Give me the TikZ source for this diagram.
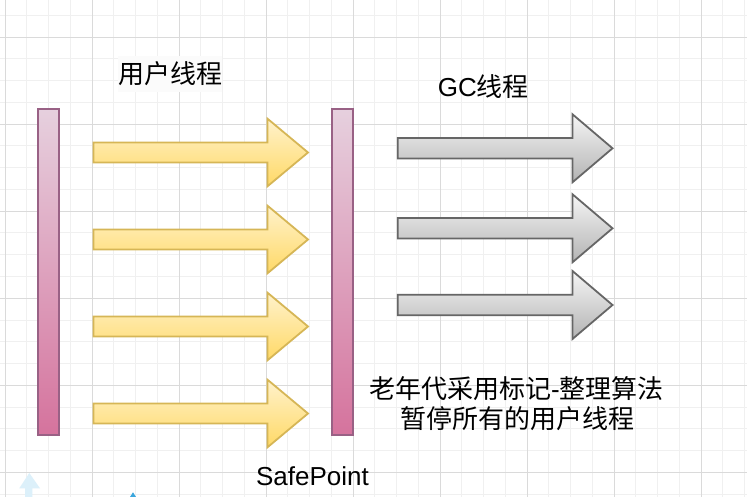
\documentclass[tikz,border=0pt]{standalone}
\usepackage{fontspec}
\setmainfont{Liberation Sans}
\newfontfamily\cjkfont{Noto Sans CJK SC}
\definecolor{gridminor}{HTML}{F0F0F0}
\definecolor{gridmajor}{HTML}{DADADA}
\definecolor{bartop}{HTML}{E6D0DE}
\definecolor{barbottom}{HTML}{D5739D}
\definecolor{barstroke}{HTML}{996185}
\definecolor{ytop}{HTML}{FFF2CC}
\definecolor{ybottom}{HTML}{FFD966}
\definecolor{ystroke}{HTML}{D6B656}
\definecolor{gtop}{HTML}{F5F5F5}
\definecolor{gbottom}{HTML}{B3B3B3}
\definecolor{gstroke}{HTML}{666666}
\definecolor{paleblue}{HTML}{DCF0FA}
\definecolor{brightblue}{HTML}{3AA6DD}
\definecolor{labelbg}{HTML}{FBFBFB}
\newcommand\myarrowpath[6]{(#1,#2-#5) -- (#3,#2-#5) -- (#3,#2-#6) -- (#4,#2) -- (#3,#2+#6) -- (#3,#2+#5) -- (#1,#2+#5) -- cycle}
\begin{document}
\begin{tikzpicture}[x=1pt,y=-1pt,
  minorgrid/.style={draw=gridminor, line width=0.9pt},
  majorgrid/.style={draw=gridmajor, line width=0.9pt},
  bar/.style={draw=barstroke, line width=2pt, top color=bartop, bottom color=barbottom},
  yarrow/.style={draw=ystroke, line width=1.8pt, top color=ytop, bottom color=ybottom},
  garrow/.style={draw=gstroke, line width=1.8pt, top color=gtop, bottom color=gbottom},
  lbl/.style={font=\fontsize{26}{30}\selectfont, inner sep=0pt, anchor=base}]
\useasboundingbox (0,0) rectangle (747,497);
\fill[white] (0,0) rectangle (747,497);
% grid
\foreach \k in {0,...,34} {\draw[minorgrid] ({5+21.75*\k},0) -- ({5+21.75*\k},497);}
\foreach \k in {-1,...,21} {\draw[minorgrid] (0,{37.2+21.75*\k}) -- (747,{37.2+21.75*\k});}
\foreach \k in {0,...,8} {\draw[majorgrid] ({5+87*\k},0) -- ({5+87*\k},497);}
\foreach \k in {0,...,5} {\draw[majorgrid] (0,{37.2+87*\k}) -- (747,{37.2+87*\k});}
% partial shapes at the bottom edge
\fill[paleblue] (29.3,473) -- (40,488.3) -- (32.3,488.3) -- (32.3,497) -- (25,497) -- (25,488.3) -- (19.3,488.3) -- cycle;
\fill[brightblue] (133,492.3) -- (136,497) -- (130,497) -- cycle;
% bars
\path[bar] (37.7,109) rectangle (59.3,435);
\path[bar] (331.7,109) rectangle (353.3,435);
% user-thread arrows
\foreach \yc in {152.5,239.5,326.5,413.5} {\path[yarrow] \myarrowpath{93.5}{\yc}{267.5}{308}{10}{33.8};}
% GC-thread arrows
\foreach \yc in {148.3,228.3,305} {\path[garrow] \myarrowpath{397.7}{\yc}{572.5}{612.5}{10.2}{34};}
% texts
\fill[labelbg] (118,56) rectangle (222,92);
\node[lbl] (ut) at (170,83.2) {\cjkfont 用户线程};
\node[lbl] (gc) at (483.3,96.5) {GC{\cjkfont 线程}};
\node[lbl] (l1) at (516.5,398) {{\cjkfont 老年代采用标记}-{\cjkfont 整理算法}};
\node[lbl] (l2) at (517.3,428) {\cjkfont 暂停所有的用户线程};
\node[lbl] (sp) at (312.5,485) {SafePoint};
\end{tikzpicture}
\end{document}
